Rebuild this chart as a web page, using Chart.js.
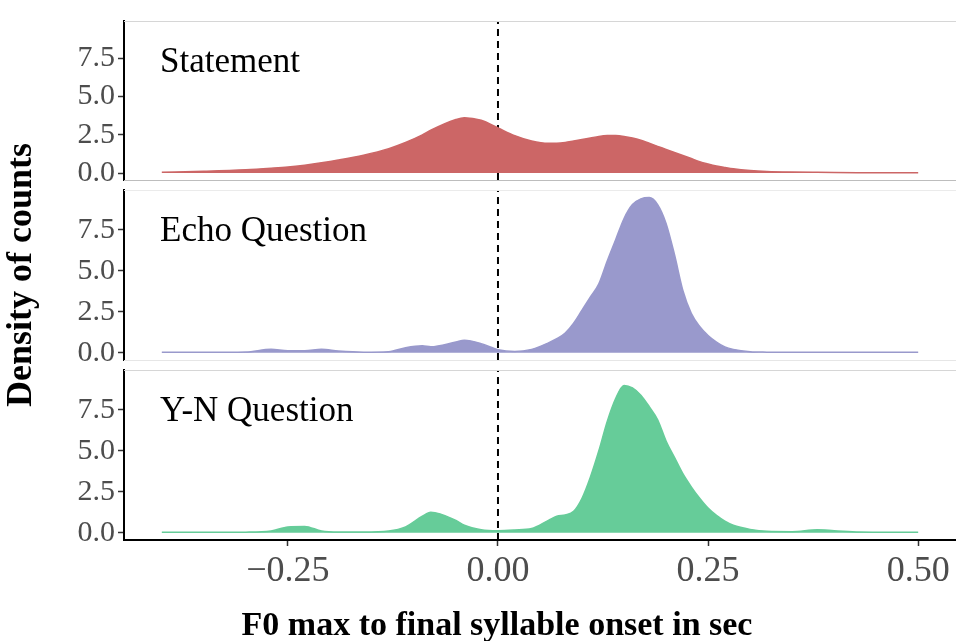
<!DOCTYPE html>
<html>
<head>
<meta charset="utf-8">
<script src="https://cdn.jsdelivr.net/npm/chart.js@4"></script>
<style>
  body { margin: 0; background: #fff; }
  #wrap { position: relative; width: 956px; height: 641px; }
  .panel { position: absolute; left: 0; top: 0; width: 956px; height: 641px; }
</style>
</head>
<body>
<div id="wrap">
  <div class="panel"><canvas id="p1"></canvas></div>
  <div class="panel"><canvas id="p2"></canvas></div>
  <div class="panel"><canvas id="p3"></canvas></div>
</div>
<script>
const xs = [-0.40, -0.35, -0.30, -0.27, -0.25, -0.23, -0.21, -0.19, -0.16, -0.13, -0.11, -0.09, -0.08, -0.05, -0.04, -0.02,
  0, 0.02, 0.04, 0.06, 0.07, 0.08, 0.09, 0.10, 0.11, 0.12, 0.13, 0.14, 0.15, 0.16, 0.17, 0.18, 0.19, 0.20,
  0.21, 0.22, 0.23, 0.24, 0.25, 0.26, 0.27, 0.28, 0.30, 0.32, 0.35, 0.38, 0.40, 0.43, 0.46, 0.50];

const statement = [0.05, 0.12, 0.22, 0.32, 0.4, 0.52, 0.67, 0.85, 1.17, 1.6, 2.0, 2.5, 2.8, 3.5, 3.62, 3.45,
  2.95, 2.45, 2.1, 1.95, 1.95, 2.0, 2.1, 2.2, 2.3, 2.4, 2.45, 2.45, 2.4, 2.3, 2.15, 1.95, 1.75, 1.55,
  1.35, 1.15, 0.95, 0.75, 0.6, 0.47, 0.37, 0.28, 0.17, 0.11, 0.07, 0.05, 0.04, 0.03, 0.02, 0.02];

const echoQ = [0.02, 0.02, 0.04, 0.2, 0.12, 0.12, 0.2, 0.1, 0.03, 0.06, 0.3, 0.42, 0.36, 0.65, 0.75, 0.55,
  0.18, 0.07, 0.2, 0.6, 0.85, 1.2, 1.8, 2.6, 3.4, 4.2, 5.6, 6.9, 8.2, 9.05, 9.4, 9.48, 9.05, 7.9,
  6.0, 3.8, 2.4, 1.6, 1.05, 0.65, 0.35, 0.2, 0.06, 0.03, 0.02, 0.02, 0.02, 0.02, 0.02, 0.02];

const ynQ = [0.02, 0.02, 0.03, 0.1, 0.35, 0.38, 0.1, 0.04, 0.04, 0.1, 0.35, 1.0, 1.25, 0.75, 0.45, 0.18,
  0.12, 0.16, 0.25, 0.75, 1.0, 1.08, 1.3, 2.1, 3.4, 5.0, 6.8, 8.2, 9.0, 8.85, 8.4, 7.7, 6.9, 5.6,
  4.6, 3.6, 2.8, 2.1, 1.5, 1.05, 0.7, 0.45, 0.2, 0.08, 0.06, 0.17, 0.12, 0.04, 0.03, 0.02];

const groups = ["Statement", "Echo Question", "Y-N Question"];
const colors = ["#CC6666", "#9999CC", "#66CC99"];
const xTicks = [-0.25, 0, 0.25, 0.5];
const yTicks = [0, 2.5, 5, 7.5];
const xTitle = 'F0 max to final syllable onset in sec';

const serif = '"Liberation Serif", "DejaVu Serif", serif';
const xMin = -0.445, xMax = 0.545, yMin = -0.45, yMax = 9.94;

// panel label + thin grey panel edges (+ x title on the last panel)
const panelDeco = {
  id: 'panelDeco',
  afterDraw(chart, args, opts) {
    const { ctx, chartArea: a } = chart;
    ctx.save();
    ctx.lineWidth = 1;
    ctx.strokeStyle = opts.topColor;
    ctx.beginPath(); ctx.moveTo(a.left, a.top + 0.5); ctx.lineTo(a.right, a.top + 0.5); ctx.stroke();
    if (opts.bottomColor) {
      ctx.strokeStyle = opts.bottomColor;
      ctx.beginPath(); ctx.moveTo(a.left, a.bottom + 0.5); ctx.lineTo(a.right, a.bottom + 0.5); ctx.stroke();
    }
    ctx.fillStyle = '#000';
    ctx.font = '35px ' + serif;
    ctx.textBaseline = 'alphabetic';
    ctx.fillText(opts.text, a.left + 36, a.top + 51);
    if (opts.xTitle) {
      ctx.font = 'bold 34px ' + serif;
      ctx.textAlign = 'center';
      ctx.fillText(opts.xTitle, 497, chart.height - 6);
    }
    ctx.restore();
  }
};

// every panel gets a full-size canvas; padding puts its plot area in place
function makePanel(id, i, pad, showX, showYTitle, bottomColor) {
  const pts = xs.map((x, k) => ({ x: x, y: [statement, echoQ, ynQ][i][k] }));
  new Chart(document.getElementById(id), {
    type: 'line',
    data: {
      datasets: [
        {
          data: pts,
          borderColor: colors[i],
          backgroundColor: colors[i],
          borderWidth: 1.5,
          fill: 'origin',
          pointRadius: 0,
          cubicInterpolationMode: 'monotone'
        },
        {
          data: [{ x: 0, y: yMin }, { x: 0, y: yMax }],
          borderColor: '#000',
          borderWidth: 2,
          borderDash: [7, 5],
          pointRadius: 0,
          fill: false
        }
      ]
    },
    options: {
      responsive: true,
      maintainAspectRatio: false,
      animation: false,
      events: [],
      layout: { padding: { top: pad[0], bottom: pad[1], left: 0, right: 0 } },
      plugins: {
        legend: { display: false },
        tooltip: { enabled: false },
        panelDeco: {
          text: groups[i],
          topColor: i === 1 ? '#ebebeb' : '#d6d6d6',
          bottomColor: bottomColor,
          xTitle: showX ? xTitle : null
        }
      },
      scales: {
        x: {
          type: 'linear',
          min: xMin,
          max: xMax,
          display: showX,
          afterBuildTicks: s => { s.ticks = xTicks.map(v => ({ value: v })); },
          afterFit: s => { if (showX) s.height = 101; },
          grid: { drawOnChartArea: false, tickLength: 6, tickColor: '#333', tickWidth: 1.5 },
          border: { color: '#000', width: 2 },
          ticks: {
            color: '#4D4D4D',
            padding: 4,
            maxRotation: 0,
            font: { family: serif, size: 36 },
            callback: v => v < 0 ? '\u2212' + Math.abs(v).toFixed(2) : v.toFixed(2)
          }
        },
        y: {
          min: yMin,
          max: yMax,
          afterBuildTicks: s => { s.ticks = yTicks.map(v => ({ value: v })); },
          afterFit: s => { s.width = 124; },
          grid: { drawOnChartArea: false, tickLength: 6, tickColor: '#333', tickWidth: 1.5 },
          border: { color: '#000', width: 2 },
          ticks: {
            color: '#4D4D4D',
            padding: 3,
            font: { family: serif, size: 30 },
            callback: v => v.toFixed(1)
          },
          title: {
            display: showYTitle,
            text: 'Density of counts',
            color: '#000',
            font: { family: serif, size: 36, weight: 'bold' },
            padding: 0
          }
        }
      }
    },
    plugins: [panelDeco]
  });
}

makePanel('p1', 0, [10, 461], false, false, '#bdbdbd');
makePanel('p2', 1, [190, 281], false, true, '#e6e6e6');
makePanel('p3', 2, [370, 0], true, false, null);
</script>
</body>
</html>
